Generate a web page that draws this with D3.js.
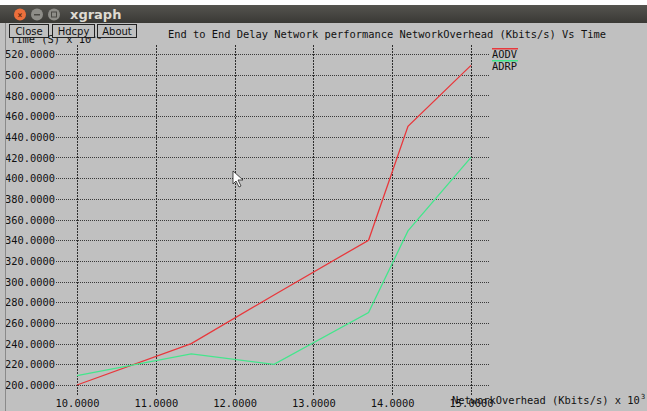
<!DOCTYPE html>
<html lang="en">
<head>
    <meta charset="UTF-8">
    <title>xgraph</title>
    <style>
        html, body { margin: 0; padding: 0; background: #fff; }
        svg { display: block; }
        text { font-family: "DejaVu Sans Mono", monospace; }
    </style>
</head>
<body>
    <div id="container"></div>
    <script src="https://cdn.jsdelivr.net/npm/d3@7"></script>
    <script type="text/javascript">

        // data
        var xTicks = [10, 11, 12, 13, 14, 15];
        var yTicks = [200, 220, 240, 260, 280, 300, 320, 340, 360, 380, 400, 420, 440, 460, 480, 500, 520];
        var aodvX = [10, 11.45, 12.5, 13.7, 14.2, 15];
        var aodvY = [200, 240, 287, 340, 450, 509];
        var adrpX = [10, 11.45, 12.5, 13.7, 14.2, 15];
        var adrpY = [209, 230, 220, 270, 349, 420];
        var series = [
            {name: "AODV", xs: aodvX, ys: aodvY, color: "#e8383c"},
            {name: "ADRP", xs: adrpX, ys: adrpY, color: "#44e68c"}
        ];

        var width = 647, height = 411;

        var svg = d3.select("#container").append("svg")
            .attr("width", width)
            .attr("height", height);
        var defs = svg.append("defs");

        // window body
        svg.append("rect").attr("x", 0).attr("y", 0).attr("width", width).attr("height", height).attr("fill", "#c0c0c0");
        svg.append("rect").attr("x", 0).attr("y", 0).attr("width", width).attr("height", 5).attr("fill", "#fff");

        // title bar
        var grad = defs.append("linearGradient")
            .attr("id", "bar").attr("x1", 0).attr("y1", 0).attr("x2", 0).attr("y2", 1);
        grad.append("stop").attr("offset", "0%").attr("stop-color", "#55544f");
        grad.append("stop").attr("offset", "100%").attr("stop-color", "#3a3935");
        svg.append("rect").attr("x", 0).attr("y", 5).attr("width", width).attr("height", 18).attr("fill", "url(#bar)");
        svg.append("circle").attr("cx", 20).attr("cy", 14.5).attr("r", 6).attr("fill", "#ec6f3c");
        svg.append("text").attr("x", 20).attr("y", 17.5).attr("text-anchor", "middle")
            .attr("font-size", 8).attr("font-weight", "bold").attr("fill", "#6a2b10").text("×");
        svg.append("circle").attr("cx", 37).attr("cy", 14.5).attr("r", 6).attr("fill", "#8e8d88");
        svg.append("circle").attr("cx", 54).attr("cy", 14.5).attr("r", 6).attr("fill", "#8e8d88");
        svg.append("rect").attr("x", 34).attr("y", 14).attr("width", 6).attr("height", 1.5).attr("fill", "#4a4944");
        svg.append("rect").attr("x", 51.5).attr("y", 12).attr("width", 5).attr("height", 5)
            .attr("fill", "none").attr("stroke", "#4a4944");
        svg.append("text").attr("x", 70).attr("y", 19).attr("fill", "#dfdbd2")
            .attr("font-size", 13).attr("font-weight", "bold")
            .style("font-family", "'DejaVu Sans', sans-serif").text("xgraph");

        // left border of window
        svg.append("line").attr("x1", 5.5).attr("x2", 5.5).attr("y1", 23).attr("y2", height)
            .attr("stroke", "#8a8a8a");

        var x = d3.scaleLinear().domain([10, 15]).range([77, 471]);
        var y = d3.scaleLinear().domain([200, 520]).range([385, 54]);

        // clip the left edge like the window does
        defs.append("clipPath").attr("id", "win")
            .append("rect").attr("x", 6).attr("y", 23).attr("width", width - 6).attr("height", height - 23);
        var plot = svg.append("g").attr("clip-path", "url(#win)");

        // y-axis text
        var yAxis = plot.append("g")
            .attr("transform", "translate(55,0)")
            .call(d3.axisLeft(y).tickValues(yTicks).tickSize(0).tickPadding(0)
                .tickFormat(function(d) { return d3.format(".4f")(d); }));
        yAxis.select(".domain").remove();
        yAxis.selectAll("text")
            .attr("font-family", "DejaVu Sans Mono, monospace")
            .attr("font-size", 10.4)
            .attr("fill", "#111")
            .attr("dy", "0.35em");

        // horizontal grid
        plot.append("g").selectAll("line").data(yTicks).enter().append("line")
            .attr("x1", 56).attr("x2", 490)
            .attr("y1", function(d) { return Math.round(y(d)) + 0.5; })
            .attr("y2", function(d) { return Math.round(y(d)) + 0.5; })
            .attr("stroke", "#3a3a3a").attr("stroke-dasharray", "1,1");

        // vertical grid
        plot.append("g").selectAll("line").data(xTicks).enter().append("line")
            .attr("x1", function(d) { return Math.round(x(d)) + 0.5; })
            .attr("x2", function(d) { return Math.round(x(d)) + 0.5; })
            .attr("y1", 45).attr("y2", 396)
            .attr("stroke", "#2e2e2e").attr("stroke-dasharray", "2,1");

        // x-axis text
        var xAxis = plot.append("g")
            .attr("transform", "translate(0,398)")
            .call(d3.axisBottom(x).tickValues(xTicks).tickSize(0).tickPadding(0)
                .tickFormat(function(d) { return d3.format(".4f")(d); }));
        xAxis.select(".domain").remove();
        xAxis.selectAll("text")
            .attr("font-family", "DejaVu Sans Mono, monospace")
            .attr("font-size", 10.4)
            .attr("fill", "#111")
            .attr("dy", "0.9em");

        // series lines
        var line = d3.line()
            .x(function(d) { return x(d[0]); })
            .y(function(d) { return y(d[1]); });
        series.forEach(function(s) {
            plot.append("path")
                .datum(s.xs.map(function(v, i) { return [v, s.ys[i]]; }))
                .attr("fill", "none")
                .attr("stroke", s.color)
                .attr("stroke-width", 1.3)
                .attr("d", line);
        });

        // legend
        var legend = plot.append("g").selectAll("g").data(series).enter().append("g")
            .attr("transform", function(d, i) { return "translate(492," + (48 + i * 12) + ")"; });
        legend.append("rect").attr("x", 0).attr("y", 0).attr("width", 26).attr("height", 1.5)
            .attr("fill", function(d) { return d.color; });
        legend.append("text").attr("x", 0).attr("y", 10).attr("font-size", 10.4).attr("fill", "#111")
            .text(function(d) { return d.name; });

        // axis labels and title
        plot.append("text").attr("x", 452).attr("y", 404).attr("font-size", 10.4).attr("fill", "#111")
            .text("NetworkOverhead (Kbits/s) x 10");
        plot.append("text").attr("x", 641).attr("y", 399).attr("font-size", 7).attr("fill", "#111").text("3");
        plot.append("text").attr("x", 10).attr("y", 43).attr("font-size", 10.4).attr("fill", "#111")
            .text("Time (S) x 10");
        plot.append("text").attr("x", 93).attr("y", 39).attr("font-size", 7).attr("fill", "#111").text("-3");
        plot.append("text").attr("x", 168).attr("y", 38).attr("font-size", 10.4).attr("fill", "#111")
            .text("End to End Delay Network performance NetworkOverhead (Kbits/s) Vs Time");

        // buttons
        var buttons = [{t: "Close", x: 9, w: 39}, {t: "Hdcpy", x: 52, w: 42}, {t: "About", x: 97, w: 39}];
        var btn = svg.append("g").selectAll("g").data(buttons).enter().append("g")
            .attr("transform", function(d) { return "translate(" + d.x + ",24)"; });
        btn.append("rect").attr("x", 0.5).attr("y", 0.5).attr("width", function(d) { return d.w; }).attr("height", 13)
            .attr("fill", "#c0c0c0").attr("stroke", "#222");
        btn.append("text").attr("x", function(d) { return d.w / 2 + 0.5; }).attr("y", 10.5)
            .attr("text-anchor", "middle").attr("font-size", 10).attr("fill", "#111")
            .style("font-family", "'DejaVu Sans', sans-serif")
            .text(function(d) { return d.t; });

        // mouse pointer
        svg.append("path")
            .attr("d", "M233,171 L233,184 L236,181 L239,187 L241,186 L238,180 L243,180 Z")
            .attr("fill", "#fff").attr("stroke", "#222").attr("stroke-width", 0.8);
    </script>
</body>
</html>
